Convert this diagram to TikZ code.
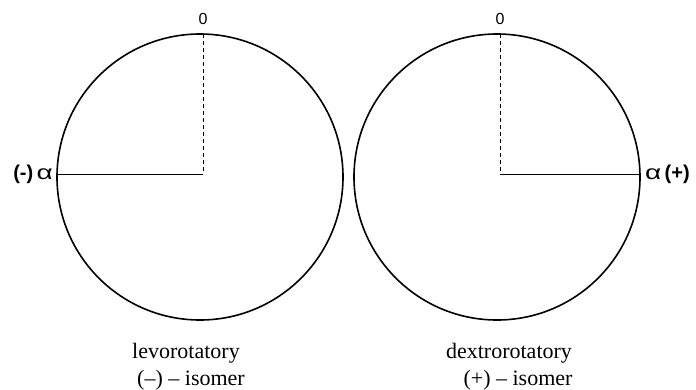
\documentclass[tikz,border=0pt]{standalone}
\usepackage{fontspec}
\setmainfont{Liberation Serif}
\newfontfamily\arialf{Liberation Sans}
\begin{document}
\begin{tikzpicture}[x=1pt,y=-1pt,
  ring/.style={line width=1.6pt,black},
  radline/.style={line width=1pt,black},
  zeroline/.style={line width=1pt,black,dash pattern=on 4pt off 3pt},
  caption/.style={font=\fontsize{22}{26}\selectfont,inner sep=0pt,anchor=base},
  zerolab/.style={font=\arialf\fontsize{16}{19}\selectfont,inner sep=0pt},
  alphalab/.style={font=\arialf\fontsize{20}{24}\selectfont,inner sep=0pt}]
\useasboundingbox (0,0) rectangle (696,389);
% left circle
\coordinate (lc) at (200,177);
\coordinate (lo) at (203,174);
\coordinate (ltop) at (203,34);
\coordinate (lleft) at (57,174);
\draw[ring] (lc) circle[radius=143];
\draw[zeroline] (ltop) -- (lo);
\draw[radline] (lleft) -- (lo);
\node[zerolab] (lzero) at (203,19) {0};
\node[alphalab,anchor=east] (lalpha) at (53,174) {\textbf{(-)}\,\scalebox{1.4}[1]{α}};
\node[caption] (llev) at (186,358) {levorotatory};
\node[caption] (liso) at (191,385) {(–) – isomer};
% right circle
\coordinate (rc) at (497,177);
\coordinate (ro) at (500,174);
\coordinate (rtop) at (500,34);
\coordinate (rright) at (640,174);
\draw[ring] (rc) circle[radius=143];
\draw[zeroline] (rtop) -- (ro);
\draw[radline] (ro) -- (rright);
\node[zerolab] (rzero) at (500,19) {0};
\node[alphalab,anchor=west] (ralpha) at (645,174) {\scalebox{1.4}[1]{α}\,\textbf{(+)}};
\node[caption] (rdex) at (509,358) {dextrorotatory};
\node[caption] (riso) at (518,385) {(+) – isomer};
\end{tikzpicture}
\end{document}
